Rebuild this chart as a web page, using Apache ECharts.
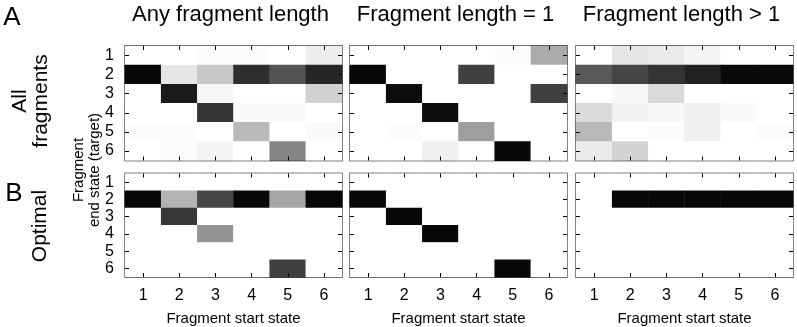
<!DOCTYPE html>
<html>
<head>
<meta charset="utf-8">
<script src="https://cdn.jsdelivr.net/npm/echarts@6/dist/echarts.min.js"></script>
<style>
  html, body { margin: 0; padding: 0; background: #fff; }
  #chart { width: 797px; height: 327px; }
</style>
</head>
<body>
<div id="chart"></div>
<script>
// fragment start / end states
var states = ['1', '2', '3', '4', '5', '6'];
var panelTitles = ['Any fragment length', 'Fragment length = 1', 'Fragment length > 1'];
var rowLabels = [['All', 'fragments'], ['Optimal']];

// darkness 0 (white) .. 1 (black); rows = end state 1..6, cols = start state 1..6
var allAny = [
  [0, 0, 0.01, 0.01, 0, 0.07],
  [0.97, 0.1, 0.22, 0.82, 0.68, 0.85],
  [0, 0.9, 0.03, 0, 0, 0.18],
  [0, 0, 0.8, 0.02, 0.02, 0],
  [0.01, 0.01, 0, 0.27, 0, 0.02],
  [0, 0.01, 0.04, 0, 0.48, 0]
];
var allLen1 = [
  [0, 0, 0, 0, 0.01, 0.33],
  [0.97, 0, 0, 0.75, 0, 0],
  [0, 0.95, 0, 0, 0, 0.75],
  [0, 0, 0.95, 0, 0, 0],
  [0, 0.01, 0, 0.38, 0, 0],
  [0, 0, 0.06, 0, 0.97, 0]
];
var allLenMore = [
  [0, 0.1, 0.08, 0.04, 0, 0],
  [0.65, 0.73, 0.8, 0.87, 0.96, 0.96],
  [0, 0.03, 0.15, 0, 0, 0],
  [0.14, 0.05, 0.03, 0.06, 0.02, 0],
  [0.28, 0, 0.01, 0.06, 0, 0.01],
  [0.08, 0.17, 0, 0, 0, 0]
];
var optAny = [
  [0, 0, 0, 0, 0, 0],
  [0.97, 0.3, 0.72, 0.97, 0.35, 0.97],
  [0, 0.78, 0, 0, 0, 0],
  [0, 0, 0.42, 0, 0, 0],
  [0, 0, 0, 0, 0, 0],
  [0, 0, 0, 0, 0.75, 0]
];
var optLen1 = [
  [0, 0, 0, 0, 0, 0],
  [0.97, 0, 0, 0, 0, 0],
  [0, 0.97, 0, 0, 0, 0],
  [0, 0, 0.97, 0, 0, 0],
  [0, 0, 0, 0, 0, 0],
  [0, 0, 0, 0, 0.97, 0]
];
var optLenMore = [
  [0, 0, 0, 0, 0, 0],
  [0, 0.97, 0.97, 0.97, 0.97, 0.97],
  [0, 0, 0, 0, 0, 0],
  [0, 0, 0, 0, 0, 0],
  [0, 0, 0, 0, 0, 0],
  [0, 0, 0, 0, 0, 0]
];

var panels = [allAny, allLen1, allLenMore, optAny, optLen1, optLenMore];

var FONT = 'Liberation Sans, Arial, Helvetica, sans-serif';
var lefts = [125, 350, 576];
var tops = [46, 173.5];
var W = 217, H = 114.5;

function toCells(m) {
  var out = [];
  for (var r = 0; r < m.length; r++) {
    for (var c = 0; c < m[r].length; c++) {
      out.push([c, r, m[r][c]]);
    }
  }
  return out;
}

var grids = [], xAxes = [], yAxes = [], series = [];
var tick = { show: true, inside: true, length: 4, interval: 0, alignWithLabel: true, lineStyle: { color: '#000', width: 1 } };

panels.forEach(function (m, i) {
  var row = Math.floor(i / 3), col = i % 3;
  grids.push({
    left: lefts[col], top: tops[row], width: W, height: H,
    show: true, borderColor: '#000', borderWidth: 1.3, backgroundColor: '#fff'
  });
  // bottom x (labels on lower row), top x only for ticks
  xAxes.push({
    type: 'category', gridIndex: i, data: states, position: 'bottom', z: 10,
    axisLine: { show: false }, axisTick: tick, splitLine: { show: false },
    axisLabel: { show: row === 1, interval: 0, color: '#000', fontSize: 16, fontFamily: FONT, margin: 11 },
    name: row === 1 ? 'Fragment start state' : '', nameLocation: 'middle', nameGap: 34,
    nameTextStyle: { color: '#000', fontSize: 15, fontFamily: FONT }
  });
  xAxes.push({
    type: 'category', gridIndex: i, data: states, position: 'top', z: 10,
    axisLine: { show: false }, axisTick: tick, axisLabel: { show: false }, splitLine: { show: false }
  });
  yAxes.push({
    type: 'category', gridIndex: i, data: states, inverse: true, position: 'left', z: 10,
    axisLine: { show: false }, axisTick: tick, splitLine: { show: false },
    axisLabel: { show: col === 0, interval: 0, color: '#000', fontSize: 16, fontFamily: FONT, margin: 11 }
  });
  yAxes.push({
    type: 'category', gridIndex: i, data: states, inverse: true, position: 'right', z: 10,
    axisLine: { show: false }, axisTick: tick, axisLabel: { show: false }, splitLine: { show: false }
  });
  series.push({
    type: 'heatmap', xAxisIndex: i * 2, yAxisIndex: i * 2,
    data: toCells(m), itemStyle: { borderWidth: 0 }, silent: true, z: 1
  });
});

var txt = { fill: '#000', fontFamily: FONT };
var graphics = [];
panelTitles.forEach(function (t, c) {
  graphics.push({
    type: 'text', x: lefts[c] + W / 2 - 3, y: 15,
    style: Object.assign({ text: t, fontSize: 22, align: 'center', verticalAlign: 'middle' }, txt)
  });
});
graphics.push({ type: 'text', x: 12, y: 18, style: Object.assign({ text: 'A', fontSize: 26, align: 'center', verticalAlign: 'middle' }, txt) });
graphics.push({ type: 'text', x: 14, y: 194, style: Object.assign({ text: 'B', fontSize: 26, align: 'center', verticalAlign: 'middle' }, txt) });
graphics.push({
  type: 'text', x: 31, y: 101, rotation: Math.PI / 2,
  style: Object.assign({ text: rowLabels[0].join('\n'), fontSize: 21, lineHeight: 21, align: 'center', verticalAlign: 'middle' }, txt)
});
graphics.push({
  type: 'text', x: 40, y: 226, rotation: Math.PI / 2,
  style: Object.assign({ text: rowLabels[1].join('\n'), fontSize: 21, align: 'center', verticalAlign: 'middle' }, txt)
});
graphics.push({
  type: 'text', x: 87, y: 170, rotation: Math.PI / 2,
  style: Object.assign({ text: 'Fragment\nend state (target)', fontSize: 15, lineHeight: 16, align: 'center', verticalAlign: 'middle' }, txt)
});

var chart = echarts.init(document.getElementById('chart'), null, { renderer: 'canvas' });
chart.setOption({
  animation: false,
  backgroundColor: '#fff',
  grid: grids,
  xAxis: xAxes,
  yAxis: yAxes,
  visualMap: {
    type: 'continuous', show: false, min: 0, max: 1,
    seriesIndex: [0, 1, 2, 3, 4, 5], dimension: 2,
    inRange: { color: ['#ffffff', '#000000'] }
  },
  series: series,
  graphic: graphics
});
</script>
</body>
</html>
